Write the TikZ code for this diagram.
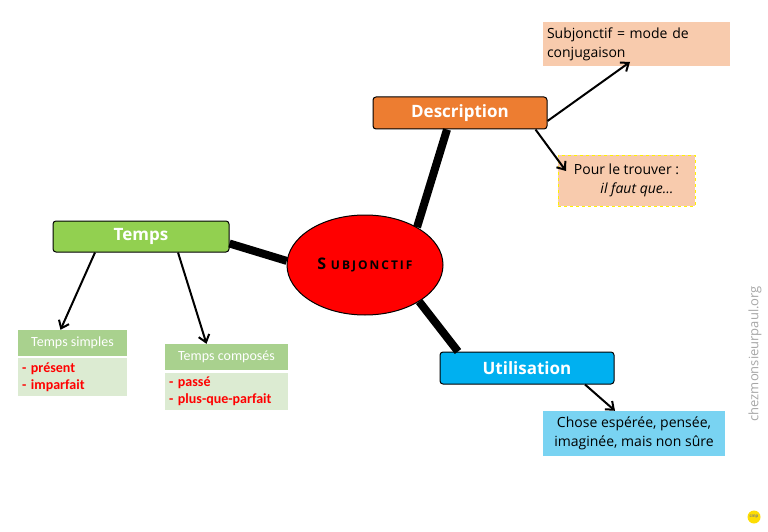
\documentclass[tikz,border=0pt]{standalone}
\usepackage{fontspec}
\setmainfont{Carlito}
\newfontfamily\vsans{Open Sans}
\usetikzlibrary{shapes.geometric,arrows.meta}
\definecolor{org}{HTML}{ED7D31}
\definecolor{peach}{HTML}{F8CBAD}
\definecolor{grn}{HTML}{92D050}
\definecolor{blu}{HTML}{00B0F0}
\definecolor{lblu}{HTML}{79D3F2}
\definecolor{hgrn}{HTML}{A9D18E}
\definecolor{bgrn}{HTML}{DCEBD2}
\begin{document}
\begin{tikzpicture}[x=1pt,y=-1pt,
 main/.style={draw=black,line width=1pt,rounded corners=3pt,text=white,font=\vsans\bfseries\fontsize{17}{20}\selectfont},
 thick link/.style={line width=8pt},
 arr/.style={line width=2pt,-{Straight Barb[length=7pt,width=11pt]}}]
\useasboundingbox (0,0) rectangle (768,532);
\node[ellipse,draw,fill=red,line width=1pt,minimum width=156,minimum height=100] (c) at (365,265) {\vsans\bfseries\fontsize{16}{18}\selectfont S\,\fontsize{12}{14}\selectfont\,U\,B\,J\,O\,N\,C\,T\,I\,F};
\node[main,fill=org,minimum width=174,minimum height=32] (d) at (460,113) {Description};
\node[main,fill=grn,minimum width=176,minimum height=31] (t) at (141,236.5) {Temps};
\node[main,fill=blu,minimum width=174,minimum height=32] (u) at (527,368) {Utilisation};
\node[fill=peach,minimum width=187,minimum height=44,align=left,text width=179,font=\vsans\fontsize{14}{19}\selectfont] (m) at (636.5,44) {Subjonctif = mode de\\conjugaison};
\node[fill=peach,draw=yellow,dashed,line width=1pt,minimum width=137,minimum height=51,align=center,font=\vsans\fontsize{14}{19}\selectfont] (p) at (626.5,180.5) {Pour le trouver :\\\hspace*{1.5em}\textit{il faut que…}};
\node[fill=lblu,minimum width=182,minimum height=45,align=center,font=\vsans\fontsize{14}{19}\selectfont] (ch) at (634,433.5) {Chose espérée, pensée,\\imaginée, mais non sûre};
\node[fill=hgrn,minimum width=109,minimum height=26,text=white,font=\fontsize{14}{16}\selectfont] (s1) at (72.5,343) {Temps simples};
\node[fill=bgrn,minimum width=109,minimum height=38,text width=101,align=left,text=red,font=\bfseries\fontsize{14}{17}\selectfont] (s2) at (72.5,377) {- présent\\- imparfait};
\node[fill=hgrn,minimum width=123,minimum height=26,text=white,font=\fontsize{14}{16}\selectfont] (k1) at (226.5,357) {Temps composés};
\node[fill=bgrn,minimum width=123,minimum height=37,text width=115,align=left,text=red,font=\bfseries\fontsize{14}{17}\selectfont] (k2) at (226.5,391.5) {- passé\\- plus-que-parfait};
\draw[thick link] (c.36) -- ([xshift=-13pt]d.south);
\draw[thick link] (c.177) -- ([yshift=-7pt]t.east);
\draw[thick link] (c.-34) -- ([xshift=-69pt]u.north);
\coordinate (m1) at (630,62);
\coordinate (p1) at (566,171);
\draw[arr] ([yshift=-8pt]d.east) -- (m1);
\draw[arr] ([xshift=-12pt]d.south east) -- (p1);
\draw[arr] ([xshift=-46pt]t.south) -- ([xshift=-12pt]s1.north);
\draw[arr] ([xshift=37pt]t.south) -- ([xshift=-20pt]k1.north);
\draw[arr] ([xshift=58pt]u.south) -- ([xshift=-19pt]ch.north);
\node[rotate=90,text=gray!70,font=\vsans\fontsize{13}{15}\selectfont,anchor=west] (w) at (755,425) {chezmonsieurpaul.org};
\node[circle,fill=yellow!80!orange,minimum size=13pt,inner sep=0pt,font=\tiny\bfseries,text=gray] (lg) at (754,517) {cmp};
\end{tikzpicture}
\end{document}
